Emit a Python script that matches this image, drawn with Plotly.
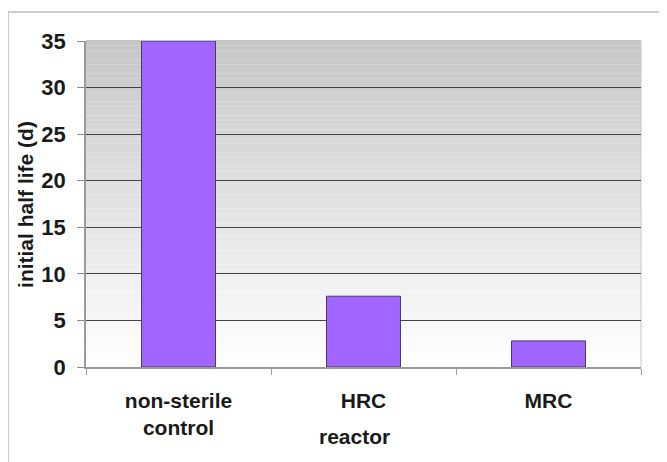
import plotly.graph_objects as go

categories = ["non-sterile<br>control", "HRC", "MRC"]
half_life = [35.0, 7.6, 2.8]
y_ticks = [0, 5, 10, 15, 20, 25, 30, 35]
y_title = "initial half life (d)"
x_title = "reactor"

FONT = "Liberation Sans, Arial, sans-serif"

fig = go.Figure()
fig.add_trace(go.Bar(
    x=categories, y=half_life, width=0.4,
    marker=dict(color="#a066ff", line=dict(color="#4a3a6a", width=1)),
))

shapes = []
n = 70
for i in range(n):
    t = (i + 0.5) / n  # 0 bottom, 1 top
    v = int(round(255 - (255 - 198) * t))
    shapes.append(dict(type="rect", xref="paper", yref="paper",
                       x0=0, x1=1, y0=i / n, y1=(i + 1) / n,
                       fillcolor=f"rgb({v},{v},{v})", line=dict(width=0),
                       layer="below"))
# soften top edge (no dark grid line at the top of the plot area)
shapes.append(dict(type="line", xref="paper", yref="paper", x0=0, x1=1, y0=1, y1=1,
                   line=dict(color="#c4c4c4", width=2), layer="between"))
# right edge of plot area
shapes.append(dict(type="line", xref="paper", yref="paper", x0=1, x1=1, y0=0, y1=1,
                   line=dict(color="#c8c8c8", width=1), layer="below"))
# outer chart frame
shapes.append(dict(type="rect", xref="paper", yref="paper",
                   x0=-0.1405, x1=1.06, y0=-0.31, y1=1.089,
                   line=dict(color="#bdbdbd", width=1.5), fillcolor="rgba(0,0,0,0)",
                   layer="below"))

fig.update_layout(
    width=659, height=454,
    margin=dict(l=78, r=26, t=33, b=95),
    paper_bgcolor="white", plot_bgcolor="white",
    showlegend=False,
    font=dict(family=FONT, size=21, color="#1a1a1a"),
    shapes=shapes,
    annotations=[
        dict(text=f"<b>{x_title}</b>", xref="paper", yref="paper",
             x=0.483, y=-0.212, xanchor="center", yanchor="middle",
             showarrow=False, font=dict(size=21, family=FONT, color="#1a1a1a")),
        dict(text=f"<b>{y_title}</b>", xref="paper", yref="paper",
             x=-0.11, y=0.5, xanchor="center", yanchor="middle", textangle=-90,
             showarrow=False, font=dict(size=21, family=FONT, color="#1a1a1a")),
    ],
)
fig.update_xaxes(
    automargin=False,
    tickson="boundaries", ticks="outside", ticklen=6, tickcolor="#9a9a9a",
    showline=True, linecolor="#9a9a9a", linewidth=1.5,
    tickfont=dict(size=21, family=FONT, weight="bold"),
    ticklabelstandoff=14,
    showgrid=False,
)
fig.update_yaxes(
    automargin=False,
    range=[0, 35], tickvals=y_ticks, ticks="outside", ticklen=7, tickcolor="#8a8a8a",
    showline=True, linecolor="#9a9a9a", linewidth=1.5,
    showgrid=True, gridcolor="#444444", gridwidth=1, zeroline=False,
    tickfont=dict(size=22, family=FONT, weight="bold"),
    ticklabelstandoff=7,
)

fig.write_html("out.html")
